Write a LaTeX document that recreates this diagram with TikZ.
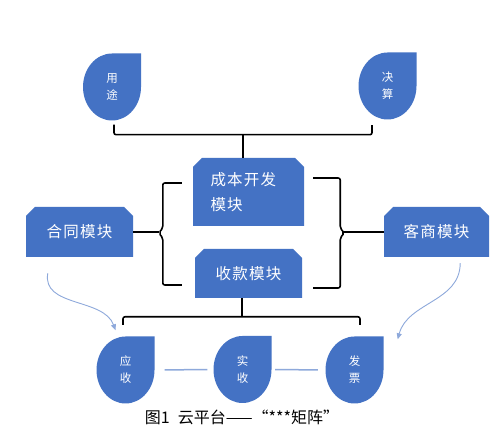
\documentclass[tikz,border=0pt]{standalone}
\usepackage{fontspec}
\newfontfamily\cjk{Noto Sans CJK SC}
\newfontfamily\cjkls{Noto Sans CJK SC}[LetterSpace=8]
\usetikzlibrary{arrows.meta}
\definecolor{boxblue}{HTML}{4472C4}
\definecolor{lineblue}{HTML}{8EA9DB}
\begin{document}
\begin{tikzpicture}[x=1pt,y=1pt,
  drop/.style={minimum width=58pt, minimum height=67pt, inner sep=0pt, fill=white,
    text=white, align=center, font=\cjk\fontsize{11.5}{17}\selectfont,
    path picture={\fill[boxblue] (path picture bounding box.north)
      arc[start angle=90, end angle=360, x radius=29pt, y radius=33.5pt]
      -- (path picture bounding box.north east) -- cycle;}},
  mbox/.style={inner sep=0pt, fill=white, text=white,
    font=\cjkls\fontsize{15.5}{25}\selectfont,
    path picture={\fill[boxblue]
      ([yshift=-9pt]path picture bounding box.north west)
      -- ([xshift=9pt]path picture bounding box.north west)
      -- ([xshift=-9pt]path picture bounding box.north east)
      -- ([yshift=-9pt]path picture bounding box.north east)
      -- (path picture bounding box.south east)
      -- (path picture bounding box.south west) -- cycle;}},
  brk/.style={draw=black, line width=1.6pt, rounded corners=2pt},
  lnk/.style={draw=lineblue, line width=1.5pt},
  arr/.style={draw=lineblue, line width=0.9pt, -{Triangle[width=5pt,length=6pt]}},
  captext/.style={font=\cjk\fontsize{16}{18}\selectfont, text=black}
]
\fill[white] (0,0) rectangle (500,441);
\useasboundingbox (0,0) rectangle (500,441);

% top drops
\node[drop] (yt) at (112,354) {用\\途};
\node[drop] (js) at (387.5,355) {决\\算};

% boxes
\node[mbox, minimum width=107pt, minimum height=50pt] (ht) at (79.5,209) {合同模块};
\node[mbox, minimum width=111pt, minimum height=68pt, text width=76pt, align=left] (cb) at (248.5,249) {成本开发\\模块};
\node[mbox, minimum width=107pt, minimum height=49pt] (sk) at (248.5,167.5) {收款模块};
\node[mbox, minimum width=105pt, minimum height=50pt] (ks) at (436.5,209) {客商模块};

% bottom drops
\node[drop] (ys) at (125.5,71) {应\\收};
\node[drop] (ss) at (242.5,71.5) {实\\收};
\node[drop] (fp) at (354.5,71) {发\\票};

% top bracket
\draw[brk] ([xshift=2pt,yshift=-4pt]yt.south) -- ++(0,-10) -| ([xshift=-15.5pt,yshift=-5.5pt]js.south);
\draw[brk] ([xshift=-5.5pt]cb.north) -- ++(0,23);

% left brace
\draw[brk] ([xshift=-11pt,yshift=9pt]cb.west) -- ++(-19,0) -- ++(0,-45) -- ++(-4,-5) -- ++(4,-5) |- ([xshift=-13pt,yshift=-11.5pt]sk.west);
\draw[brk] (ht.east) -- ++(26,0);

% right brace
\draw[brk] ([xshift=9pt,yshift=14pt]cb.east) -- ++(27,0) -- ++(0,-50) -- ++(4,-5) -- ++(-4,-5) |- ([xshift=11pt,yshift=-14.5pt]sk.east);
\draw[brk] (ks.west) -- ++(-40,0);

% bottom bracket
\draw[brk] ([xshift=-6.5pt]sk.south) -- ++(0,-19);
\draw[brk] ([xshift=-2.5pt,yshift=11.5pt]ys.north) -- ++(0,8) -| ([xshift=5.5pt,yshift=11.5pt]fp.north);

% links between bottom drops
\draw[lnk, shorten <=10pt, shorten >=6pt] (ys.east) -- (ss.west);
\draw[lnk, shorten <=3.5pt, shorten >=7.5pt] (ss.east) -- (fp.west);

% curved arrows
\draw[arr] ([xshift=22pt,yshift=-16pt]ht.south west) to[out=-100,in=110] ([xshift=-10pt,yshift=6pt]ys.north);
\draw[arr] ([xshift=-29pt,yshift=-6pt]ks.south east) to[out=-90,in=75] ([xshift=14pt,yshift=-3pt]fp.north east);

% caption
\node[captext] (caption) at (242,24) {图1\enspace 云平台——“***矩阵”};
\end{tikzpicture}
\end{document}
